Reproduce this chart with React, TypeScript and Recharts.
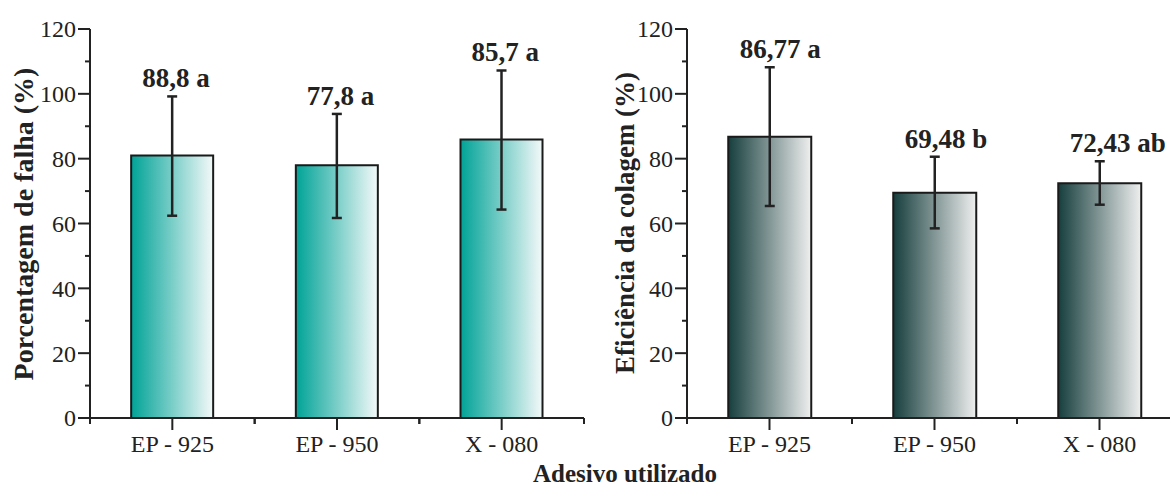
import React from "react";
import { BarChart, Bar, XAxis, YAxis, ErrorBar, LabelList } from "recharts";

// categorias
const adesivos = ["EP - 925", "EP - 950", "X - 080"];

// painel esquerdo: porcentagem de falha
const falhaMedia = [81.0, 78.0, 85.9];
const falhaMin = [62.4, 61.7, 64.3];
const falhaMax = [99.2, 93.8, 107.2];
const falhaRotulos = ["88,8 a", "77,8 a", "85,7 a"];

// painel direito: eficiência da colagem
const eficMedia = [86.77, 69.48, 72.43];
const eficMin = [65.4, 58.5, 65.8];
const eficMax = [108.2, 80.6, 79.2];
const eficRotulos = ["86,77 a", "69,48 b", "72,43 ab"];

const yTicks = [0, 10, 20, 30, 40, 50, 60, 70, 80, 90, 100, 110, 120];

const SERIF = "'Liberation Serif', 'Times New Roman', serif";
const INK = "#222";

const montarDados = (media: number[], min: number[], max: number[]) =>
  adesivos.map((nome, i) => ({
    nome,
    valor: media[i],
    erro: [media[i] - min[i], max[i] - media[i]],
  }));

const YTick = (props: any) => {
  const { x, y, payload } = props;
  const major = payload.value % 20 === 0;
  return (
    <g>
      <line x1={x - (major ? 12 : 5)} x2={x} y1={y} y2={y} stroke={INK} strokeWidth={2} />
      {major && (
        <text x={x - 14} y={y} dy="0.35em" textAnchor="end" fontSize={24} fontFamily={SERIF} fill={INK}>
          {payload.value}
        </text>
      )}
    </g>
  );
};

const makeXTick = (band: number) => (props: any) => {
  const { x, y, payload } = props;
  return (
    <g>
      <line x1={x} x2={x} y1={y} y2={y + 12} stroke={INK} strokeWidth={2} />
      <line x1={x - band / 2} x2={x - band / 2} y1={y} y2={y + 6} stroke={INK} strokeWidth={2} />
      <line x1={x + band / 2} x2={x + band / 2} y1={y} y2={y + 6} stroke={INK} strokeWidth={2} />
      <text x={x} y={y + 34} textAnchor="middle" fontSize={24} fontFamily={SERIF} fill={INK}>
        {payload.value}
      </text>
    </g>
  );
};

const makeRotulo = (rotulos: string[], media: number[], max: number[]) => (props: any) => {
  const { x, y, width, height, index } = props;
  const pxPorUnidade = height / media[index];
  const topo = y - (max[index] - media[index]) * pxPorUnidade;
  return (
    <text
      x={x + width / 2 - 30}
      y={topo - 9}
      textAnchor="start"
      fontSize={27}
      fontWeight="bold"
      fontFamily={SERIF}
      fill={INK}
    >
      {rotulos[index]}
    </text>
  );
};

interface PainelProps {
  data: any[];
  gradId: string;
  corIni: string;
  corFim: string;
  yWidth: number;
  rightMargin: number;
  band: number;
  rotulo: (p: any) => React.ReactElement;
}

const Painel: React.FC<PainelProps> = ({ data, gradId, corIni, corFim, yWidth, rightMargin, band, rotulo }) => (
  <BarChart
    width={600}
    height={490}
    data={data}
    margin={{ top: 29, right: rightMargin, left: 0, bottom: 0 }}
    barCategoryGap="25%"
  >
    <defs>
      <linearGradient id={gradId} x1="0" y1="0" x2="1" y2="0">
        <stop offset="0%" stopColor={corIni} />
        <stop offset="100%" stopColor={corFim} />
      </linearGradient>
    </defs>
    <XAxis
      dataKey="nome"
      height={72}
      tickSize={0}
      tickMargin={0}
      tickLine={false}
      axisLine={{ stroke: INK, strokeWidth: 2 }}
      tick={makeXTick(band)}
      interval={0}
    />
    <XAxis xAxisId="topo" dataKey="nome" orientation="top" height={0} tick={false} tickLine={false}
      axisLine={{ stroke: INK, strokeWidth: 2 }} />
    <YAxis
      domain={[0, 120]}
      ticks={yTicks}
      width={yWidth}
      tickSize={0}
      tickMargin={0}
      tickLine={false}
      axisLine={{ stroke: INK, strokeWidth: 2 }}
      tick={YTick}
      interval={0}
    />
    <YAxis yAxisId="dir" orientation="right" domain={[0, 120]} width={0} tick={false} tickLine={false}
      axisLine={{ stroke: INK, strokeWidth: 2 }} />
    <Bar dataKey="valor" fill={`url(#${gradId})`} stroke="#1a1a1a" strokeWidth={2} isAnimationActive={false}>
      <ErrorBar dataKey="erro" width={5} stroke={INK} strokeWidth={2.5} direction="y" />
      <LabelList dataKey="valor" content={rotulo} />
    </Bar>
  </BarChart>
);

const App: React.FC = () => {
  const dadosFalha = montarDados(falhaMedia, falhaMin, falhaMax);
  const dadosEfic = montarDados(eficMedia, eficMin, eficMax);
  return (
    <div
      style={{
        position: "absolute",
        left: 0,
        top: 0,
        width: 1170,
        height: 490,
        overflow: "hidden",
        background: "#fff",
        fontFamily: SERIF,
      }}
    >
      <div style={{ position: "absolute", left: 0, top: 0 }}>
        <Painel
          data={dadosFalha}
          gradId="gradFalha"
          corIni="#00a397"
          corFim="#f3f9f9"
          yWidth={90}
          rightMargin={16}
          band={494 / 3}
          rotulo={makeRotulo(falhaRotulos, falhaMedia, falhaMax)}
        />
      </div>
      <div style={{ position: "absolute", left: 600, top: 0 }}>
        <Painel
          data={dadosEfic}
          gradId="gradEfic"
          corIni="#163e3d"
          corFim="#efefef"
          yWidth={87}
          rightMargin={18}
          band={495 / 3}
          rotulo={makeRotulo(eficRotulos, eficMedia, eficMax)}
        />
      </div>
      <svg width={1170} height={490} style={{ position: "absolute", left: 0, top: 0, pointerEvents: "none" }}>
        <text
          transform="translate(23,224) rotate(-90)"
          textAnchor="middle"
          dy="0.35em"
          fontSize={28}
          fontWeight="bold"
          fontFamily={SERIF}
          fill={INK}
        >
          Porcentagem de falha (%)
        </text>
        <text
          transform="translate(625,223) rotate(-90)"
          textAnchor="middle"
          dy="0.35em"
          fontSize={27}
          fontWeight="bold"
          fontFamily={SERIF}
          fill={INK}
        >
          Eficiência da colagem (%)
        </text>
        <text x={625} y={482} textAnchor="middle" fontSize={25} fontWeight="bold" fontFamily={SERIF} fill={INK}>
          Adesivo utilizado
        </text>
      </svg>
    </div>
  );
};

export default App;
